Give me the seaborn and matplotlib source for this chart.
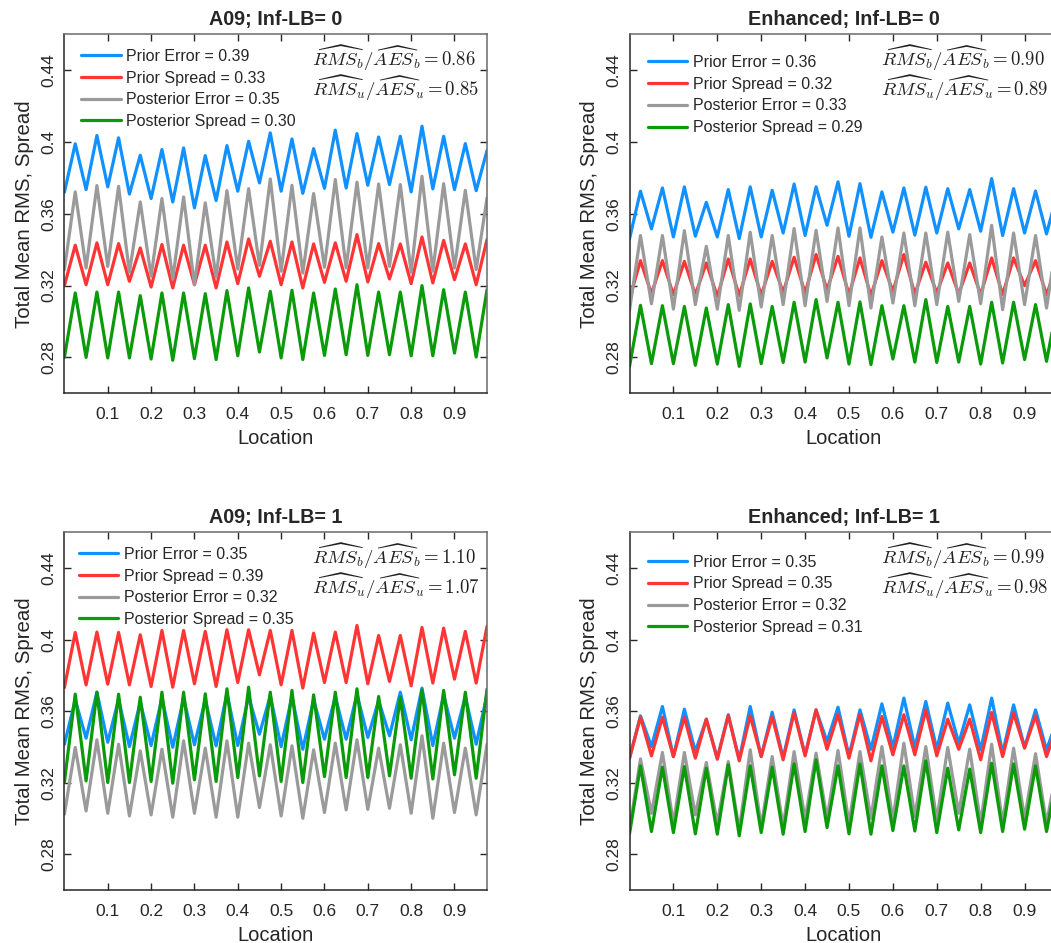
import numpy as np
import pandas as pd
import matplotlib
matplotlib.use("Agg")
import matplotlib.pyplot as plt
import seaborn as sns

# ---------------- data ----------------
location = [0.000, 0.025, 0.050, 0.075, 0.100, 0.125, 0.150, 0.175, 0.200, 0.225,
            0.250, 0.275, 0.300, 0.325, 0.350, 0.375, 0.400, 0.425, 0.450, 0.475,
            0.500, 0.525, 0.550, 0.575, 0.600, 0.625, 0.650, 0.675, 0.700, 0.725,
            0.750, 0.775, 0.800, 0.825, 0.850, 0.875, 0.900, 0.925, 0.950, 0.975]

series_names = ["Prior Error", "Prior Spread", "Posterior Error", "Posterior Spread"]

# Panel 1: A09; Inf-LB = 0
a09_lb0_prior_err = [0.372, 0.399, 0.3735, 0.4036, 0.375, 0.4023, 0.371, 0.3926, 0.3685, 0.3958,
                     0.3666, 0.3967, 0.3633, 0.3924, 0.3674, 0.398, 0.3726, 0.4004, 0.3772, 0.4051,
                     0.3726, 0.4017, 0.3714, 0.3963, 0.3742, 0.4066, 0.3744, 0.4047, 0.3759, 0.4028,
                     0.3763, 0.4032, 0.3722, 0.4088, 0.3739, 0.4032, 0.3735, 0.3991, 0.3729, 0.3952]
a09_lb0_prior_spr = [0.320, 0.3425, 0.3205, 0.3438, 0.3205, 0.3434, 0.3224, 0.341, 0.3192, 0.3429,
                     0.3187, 0.3425, 0.3205, 0.3425, 0.3187, 0.3443, 0.3211, 0.346, 0.3252, 0.3447,
                     0.3205, 0.3443, 0.3187, 0.3432, 0.3218, 0.3438, 0.3224, 0.3484, 0.322, 0.3434,
                     0.3237, 0.3432, 0.3211, 0.3471, 0.3215, 0.3452, 0.3233, 0.3432, 0.3205, 0.3456]
a09_lb0_post_err = [0.3289, 0.3722, 0.3298, 0.3757, 0.3307, 0.3753, 0.3274, 0.3666, 0.3252, 0.3685,
                    0.3237, 0.3694, 0.3205, 0.3661, 0.3248, 0.3729, 0.3292, 0.374, 0.3313, 0.3794,
                    0.328, 0.3759, 0.327, 0.3713, 0.3302, 0.3791, 0.3298, 0.3776, 0.3298, 0.3766,
                    0.3307, 0.3763, 0.3274, 0.3809, 0.328, 0.3768, 0.3298, 0.3731, 0.3289, 0.3688]
a09_lb0_post_spr = [0.280, 0.3159, 0.280, 0.3164, 0.2797, 0.3164, 0.2797, 0.3144, 0.2791, 0.3159,
                    0.2784, 0.3159, 0.2793, 0.3155, 0.2788, 0.3172, 0.2809, 0.3187, 0.283, 0.3168,
                    0.2797, 0.3174, 0.2788, 0.3159, 0.2811, 0.3181, 0.2815, 0.3205, 0.2811, 0.3164,
                    0.2815, 0.3164, 0.2809, 0.320, 0.2809, 0.3177, 0.2824, 0.3164, 0.2802, 0.3177]

# Panel 2: Enhanced; Inf-LB = 0
enh_lb0_prior_err = [0.346, 0.3726, 0.3516, 0.3744, 0.3471, 0.375, 0.3475, 0.3664, 0.3471, 0.3735,
                     0.3462, 0.375, 0.3471, 0.3731, 0.3493, 0.3766, 0.3479, 0.375, 0.3536, 0.3778,
                     0.3475, 0.3768, 0.3469, 0.3722, 0.3498, 0.3744, 0.3481, 0.3748, 0.3493, 0.374,
                     0.3516, 0.3735, 0.3503, 0.3796, 0.3479, 0.374, 0.3493, 0.3727, 0.3488, 0.372]
enh_lb0_prior_spr = [0.3125, 0.3339, 0.3155, 0.3339, 0.315, 0.3335, 0.315, 0.3326, 0.314, 0.3348,
                     0.3144, 0.3348, 0.3146, 0.3335, 0.3163, 0.3358, 0.3159, 0.3373, 0.3177, 0.3363,
                     0.315, 0.3354, 0.3144, 0.3339, 0.3168, 0.3373, 0.3153, 0.333, 0.3159, 0.3326,
                     0.3153, 0.3326, 0.315, 0.3354, 0.315, 0.3354, 0.320, 0.3339, 0.315, 0.332]
enh_lb0_post_err = [0.3062, 0.3479, 0.3099, 0.3479, 0.3069, 0.3506, 0.3094, 0.3419, 0.3069, 0.3479,
                    0.3062, 0.3497, 0.3081, 0.3479, 0.3094, 0.3518, 0.3088, 0.3508, 0.3112, 0.3521,
                    0.3088, 0.3521, 0.3075, 0.3471, 0.3103, 0.3493, 0.3088, 0.3493, 0.3094, 0.3498,
                    0.3112, 0.3484, 0.3099, 0.3536, 0.3066, 0.3493, 0.3094, 0.3479, 0.3075, 0.348]
enh_lb0_post_spr = [0.275, 0.309, 0.2765, 0.3088, 0.2765, 0.3084, 0.2756, 0.3075, 0.2763, 0.3094,
                    0.275, 0.3098, 0.2765, 0.3084, 0.2772, 0.3107, 0.2774, 0.3122, 0.2797, 0.3107,
                    0.2763, 0.3109, 0.276, 0.3088, 0.2791, 0.3088, 0.2774, 0.3122, 0.2772, 0.3084,
                    0.2774, 0.3084, 0.2763, 0.3107, 0.2769, 0.3107, 0.2788, 0.3094, 0.2778, 0.310]

# Panel 3: A09; Inf-LB = 1
a09_lb1_prior_err = [0.3415, 0.3663, 0.3449, 0.3706, 0.3426, 0.3667, 0.3402, 0.365, 0.3408, 0.3673,
                     0.3398, 0.3673, 0.3412, 0.3663, 0.3406, 0.3701, 0.3408, 0.3682, 0.3471, 0.3686,
                     0.3402, 0.3682, 0.3387, 0.3663, 0.3443, 0.3682, 0.3443, 0.3695, 0.3453, 0.366,
                     0.3462, 0.3706, 0.344, 0.3729, 0.3408, 0.3691, 0.3449, 0.3682, 0.3415, 0.3691]
a09_lb1_prior_spr = [0.3732, 0.404, 0.3747, 0.4042, 0.3751, 0.404, 0.3747, 0.4027, 0.3738, 0.4051,
                     0.3734, 0.4051, 0.3753, 0.4046, 0.3738, 0.4055, 0.376, 0.4055, 0.3803, 0.4051,
                     0.3747, 0.4051, 0.3729, 0.4036, 0.376, 0.4042, 0.376, 0.4079, 0.3753, 0.4023,
                     0.3766, 0.4023, 0.3742, 0.4068, 0.3757, 0.4064, 0.3779, 0.4046, 0.3757, 0.4074]
a09_lb1_post_err = [0.3024, 0.3397, 0.3042, 0.344, 0.3029, 0.3415, 0.3014, 0.3378, 0.302, 0.3387,
                    0.3007, 0.3434, 0.3029, 0.3393, 0.3007, 0.3434, 0.3007, 0.3421, 0.3061, 0.3412,
                    0.3014, 0.3406, 0.3001, 0.3384, 0.3033, 0.3421, 0.3048, 0.344, 0.3051, 0.3393,
                    0.3057, 0.3412, 0.3029, 0.3462, 0.3001, 0.3421, 0.3033, 0.3393, 0.302, 0.3415]
a09_lb1_post_spr = [0.3203, 0.3695, 0.321, 0.3706, 0.3201, 0.3695, 0.3201, 0.3678, 0.3207, 0.3706,
                    0.3197, 0.3706, 0.3216, 0.3697, 0.3207, 0.3725, 0.3229, 0.3734, 0.3238, 0.3706,
                    0.3207, 0.3716, 0.3201, 0.3691, 0.3234, 0.3706, 0.3229, 0.3725, 0.3229, 0.3682,
                    0.3238, 0.3678, 0.3225, 0.3719, 0.3221, 0.3716, 0.3244, 0.3706, 0.3225, 0.3723]

# Panel 4: Enhanced; Inf-LB = 1
enh_lb1_prior_err = [0.3337, 0.3574, 0.3402, 0.3626, 0.3346, 0.3611, 0.3374, 0.3555, 0.3337, 0.358,
                     0.3331, 0.3626, 0.3346, 0.3594, 0.334, 0.3607, 0.3356, 0.3607, 0.343, 0.3622,
                     0.335, 0.3607, 0.3387, 0.3641, 0.3397, 0.3673, 0.3397, 0.3654, 0.3387, 0.3645,
                     0.3421, 0.3635, 0.3383, 0.3673, 0.3366, 0.3635, 0.3397, 0.3607, 0.3383, 0.356]
enh_lb1_prior_spr = [0.3337, 0.3566, 0.335, 0.3566, 0.3346, 0.3566, 0.3337, 0.3555, 0.3331, 0.3576,
                     0.3322, 0.3574, 0.3346, 0.357, 0.3328, 0.3592, 0.335, 0.3607, 0.3387, 0.3583,
                     0.3337, 0.3583, 0.3322, 0.357, 0.3356, 0.358, 0.3356, 0.3607, 0.335, 0.3555,
                     0.3387, 0.3555, 0.3328, 0.3592, 0.3346, 0.3589, 0.3393, 0.3574, 0.3346, 0.352]
enh_lb1_post_err = [0.2936, 0.3333, 0.3029, 0.3369, 0.2973, 0.3369, 0.302, 0.3313, 0.2973, 0.3318,
                    0.2936, 0.3384, 0.2955, 0.3346, 0.2955, 0.3374, 0.2996, 0.3365, 0.3001, 0.338,
                    0.2973, 0.3374, 0.3001, 0.3402, 0.2992, 0.3421, 0.301, 0.3402, 0.2992, 0.3397,
                    0.3029, 0.3387, 0.2973, 0.3415, 0.2973, 0.3393, 0.3001, 0.3362, 0.2973, 0.330]
enh_lb1_post_spr = [0.2914, 0.3294, 0.2927, 0.3287, 0.2921, 0.329, 0.2914, 0.3281, 0.2912, 0.330,
                    0.2903, 0.3294, 0.2921, 0.3287, 0.2912, 0.3305, 0.2927, 0.3328, 0.2949, 0.3294,
                    0.2914, 0.3305, 0.2912, 0.3294, 0.2932, 0.3294, 0.293, 0.3322, 0.2921, 0.3281,
                    0.2936, 0.3276, 0.2921, 0.3309, 0.2927, 0.3305, 0.294, 0.3294, 0.2927, 0.325]

panel_titles = ["A09; Inf-LB= 0", "Enhanced; Inf-LB= 0", "A09; Inf-LB= 1", "Enhanced; Inf-LB= 1"]
panel_means = [["0.39", "0.33", "0.35", "0.30"],
               ["0.36", "0.32", "0.33", "0.29"],
               ["0.35", "0.39", "0.32", "0.35"],
               ["0.35", "0.35", "0.32", "0.31"]]
ratio_b = ["0.86", "0.90", "1.10", "0.99"]
ratio_u = ["0.85", "0.89", "1.07", "0.98"]

panel_series = [
    [a09_lb0_prior_err, a09_lb0_prior_spr, a09_lb0_post_err, a09_lb0_post_spr],
    [enh_lb0_prior_err, enh_lb0_prior_spr, enh_lb0_post_err, enh_lb0_post_spr],
    [a09_lb1_prior_err, a09_lb1_prior_spr, a09_lb1_post_err, a09_lb1_post_spr],
    [enh_lb1_prior_err, enh_lb1_prior_spr, enh_lb1_post_err, enh_lb1_post_spr],
]

x_ticks = [0.1, 0.2, 0.3, 0.4, 0.5, 0.6, 0.7, 0.8, 0.9]
x_ticklabels = ["0.1", "0.2", "0.3", "0.4", "0.5", "0.6", "0.7", "0.8", "0.9"]
y_ticks = [0.28, 0.32, 0.36, 0.40, 0.44]
y_ticklabels = ["0.28", "0.32", "0.36", "0.4", "0.44"]

colors = ["#1190ff", "#ff3535", "#9a9a9a", "#0a9a0a"]

# ---------------- plot ----------------
sns.set_theme(style="white")
plt.rcParams["font.family"] = ["Liberation Sans", "DejaVu Sans"]
plt.rcParams["mathtext.fontset"] = "cm"

W, H = 1051, 943
fig = plt.figure(figsize=(W / 100, H / 100), dpi=100)

# axes rectangles in pixels: left, top, width, height
rects_px = [(64.4, 34.3, 422.6, 359.0),
            (629.5, 34.3, 428.0, 359.0),
            (64.4, 532.3, 422.6, 357.7),
            (629.5, 532.3, 428.0, 357.7)]
legend_anchor = [(0.027, 0.975), (0.03, 0.958), (0.022, 0.975), (0.03, 0.953)]

for p in range(4):
    l, t, w, h = rects_px[p]
    ax = fig.add_axes([l / W, 1 - (t + h) / H, w / W, h / H])
    labels = [f"{series_names[k]} = {panel_means[p][k]}" for k in range(4)]
    frames = []
    for k in range(4):
        frames.append(pd.DataFrame({"Location": location,
                                    "value": panel_series[p][k],
                                    "series": labels[k]}))
    df = pd.concat(frames, ignore_index=True)
    sns.lineplot(data=df, x="Location", y="value", hue="series", hue_order=labels,
                 palette=colors, linewidth=2.3, sort=False, estimator=None, ax=ax)

    ax.set_xlim(0, 0.975)
    ax.set_ylim(0.26, 0.46)
    ax.set_xticks(x_ticks)
    ax.set_xticklabels(x_ticklabels)
    ax.set_yticks(y_ticks)
    ax.set_yticklabels(y_ticklabels, rotation=90, va="center")
    ax.tick_params(axis="both", direction="in", length=5, width=1, labelsize=12.5,
                   top=True, right=True, left=True, bottom=True, colors="#262626")
    ax.tick_params(axis="y", pad=6)
    ax.tick_params(axis="x", pad=10)
    for side in ["left", "bottom"]:
        ax.spines[side].set_color("#262626")
        ax.spines[side].set_linewidth(1.1)
    for side in ["top", "right"]:
        ax.spines[side].set_color("#6a6a6a")
        ax.spines[side].set_linewidth(1.1)
        ax.spines[side].set_visible(True)

    ax.set_xlabel("Location", fontsize=14.5, labelpad=5)
    ax.set_ylabel("Total Mean RMS, Spread", fontsize=14.7, labelpad=5)
    ax.set_title(panel_titles[p], fontsize=14.2, fontweight="bold", pad=7)

    handles, labs = ax.get_legend_handles_labels()
    ax.legend(handles, labs, loc="upper left", bbox_to_anchor=legend_anchor[p],
              frameon=False, fontsize=11.5, handlelength=2.45, handletextpad=0.35,
              labelspacing=0.42, borderaxespad=0.0, borderpad=0.35)

    ax.text(0.587, 0.933, r"$\widehat{RMS}_b/\widehat{AES}_b = " + ratio_b[p] + "$",
            transform=ax.transAxes, ha="left", va="center", fontsize=13.5, color="#202020")
    ax.text(0.587, 0.850, r"$\widehat{RMS}_u/\widehat{AES}_u = " + ratio_u[p] + "$",
            transform=ax.transAxes, ha="left", va="center", fontsize=13.5, color="#202020")

fig.savefig("out.png", dpi=100)
